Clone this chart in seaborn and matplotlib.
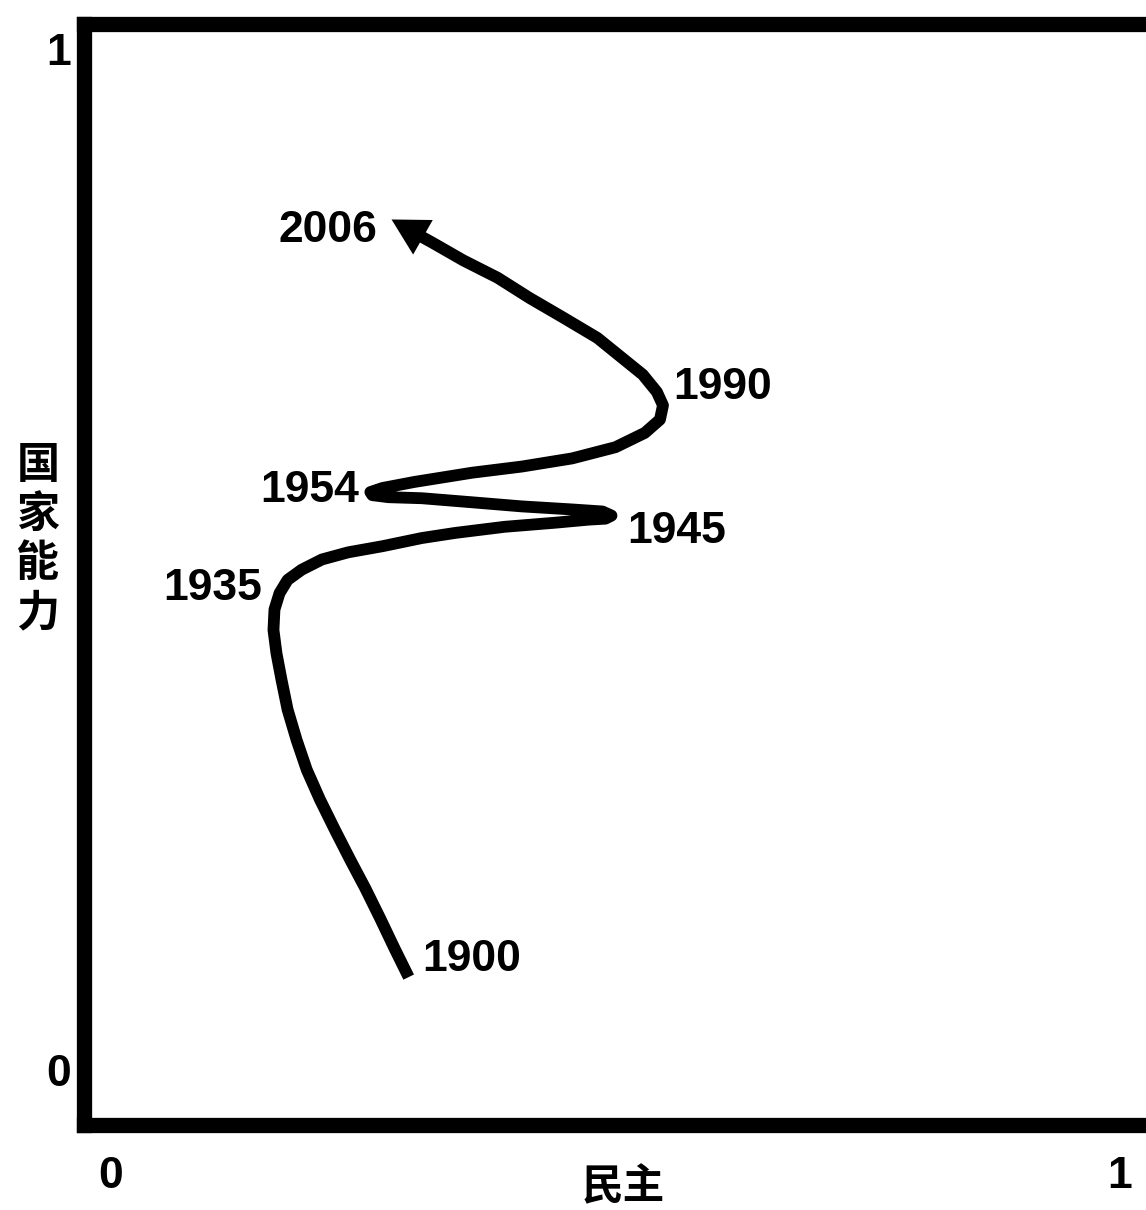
import numpy as np
import pandas as pd
import seaborn as sns
from matplotlib import pyplot as plt

# path of the country through (democracy, state capacity) space, 1900 -> 2006
democracy = [0.295, 0.281, 0.267, 0.252, 0.237, 0.222, 0.207, 0.194, 0.184, 0.175,
             0.169, 0.164, 0.161, 0.162, 0.167, 0.175, 0.189, 0.209, 0.235, 0.269,
             0.308, 0.341, 0.390, 0.440, 0.473, 0.490, 0.496, 0.487, 0.457, 0.407,
             0.358, 0.308, 0.275, 0.259, 0.257, 0.269, 0.301, 0.358, 0.407, 0.457,
             0.500, 0.529, 0.544, 0.547, 0.541, 0.527, 0.507, 0.482, 0.448, 0.415,
             0.383, 0.349, 0.319, 0.308]
capacity = [0.091, 0.119, 0.148, 0.178, 0.206, 0.235, 0.265, 0.294, 0.323, 0.353,
            0.382, 0.408, 0.431, 0.451, 0.467, 0.480, 0.490, 0.500, 0.507, 0.513,
            0.521, 0.526, 0.532, 0.536, 0.539, 0.540, 0.543, 0.547, 0.549, 0.552,
            0.556, 0.560, 0.561, 0.563, 0.566, 0.570, 0.576, 0.585, 0.591, 0.599,
            0.610, 0.624, 0.637, 0.651, 0.664, 0.681, 0.697, 0.717, 0.737, 0.756,
            0.776, 0.793, 0.810, 0.816]
arrow_tip = (0.278, 0.833)

years = ['1900', '1935', '1945', '1954', '1990', '2006']
year_label_pos = [(0.357, 0.108), (0.101, 0.472), (0.561, 0.527),
                  (0.197, 0.568), (0.606, 0.668), (0.215, 0.822)]

xlabel = '民主'
ylabel = '国家能力'

sns.set_theme(style='white')
plt.rcParams['font.family'] = ['Liberation Sans', 'Noto Sans CJK SC', 'DejaVu Sans']
plt.rcParams['font.weight'] = 'bold'
plt.rcParams['text.color'] = 'black'
plt.rcParams['axes.labelcolor'] = 'black'
plt.rcParams['xtick.color'] = 'black'
plt.rcParams['ytick.color'] = 'black'

df = pd.DataFrame({'democracy': democracy, 'capacity': capacity})

fig = plt.figure(figsize=(11.46, 12.10), dpi=100)
ax = fig.add_axes([0.0737, 0.0702, 0.9273, 0.9096])

sns.lineplot(data=df, x='democracy', y='capacity', sort=False, estimator=None,
             color='black', linewidth=8.5, ax=ax,
             solid_joinstyle='round', solid_capstyle='butt')
ax.annotate('', xy=arrow_tip, xytext=(democracy[-2], capacity[-2]),
            arrowprops=dict(arrowstyle='-|>,head_length=1.0,head_width=0.55',
                            mutation_scale=26, color='black', lw=0,
                            shrinkA=0, shrinkB=0))

for yr, (tx, ty) in zip(years, year_label_pos):
    ax.text(tx, ty, yr, fontsize=32, fontweight='bold', ha='center', va='center')

ax.set_xlim(-0.0263, 1.0268)
ax.set_ylim(-0.0539, 1.024)
ax.set_xticks([0, 1])
ax.set_yticks([0, 1])
ax.set_xticklabels(['0', '1'], fontsize=32, fontweight='bold')
ax.set_yticklabels(['0', '1'], fontsize=32, fontweight='bold')
ax.tick_params(axis='both', length=0)
ax.tick_params(axis='x', pad=22)
ax.tick_params(axis='y', pad=10)

for sp in ax.spines.values():
    sp.set_linewidth(11)
    sp.set_color('black')

ax.set_xlabel(xlabel, fontsize=30, fontweight='bold',
              family=['Noto Sans CJK SC'], va='center')
ax.xaxis.set_label_coords(0.507, -0.057)
ax.set_ylabel('\n'.join(ylabel), fontsize=31, fontweight='bold', rotation=0,
              family=['Noto Sans CJK SC'], va='center', ha='center', linespacing=1.15)
ax.yaxis.set_label_coords(-0.0438, 0.533)

fig.savefig('out.png', dpi=100)
